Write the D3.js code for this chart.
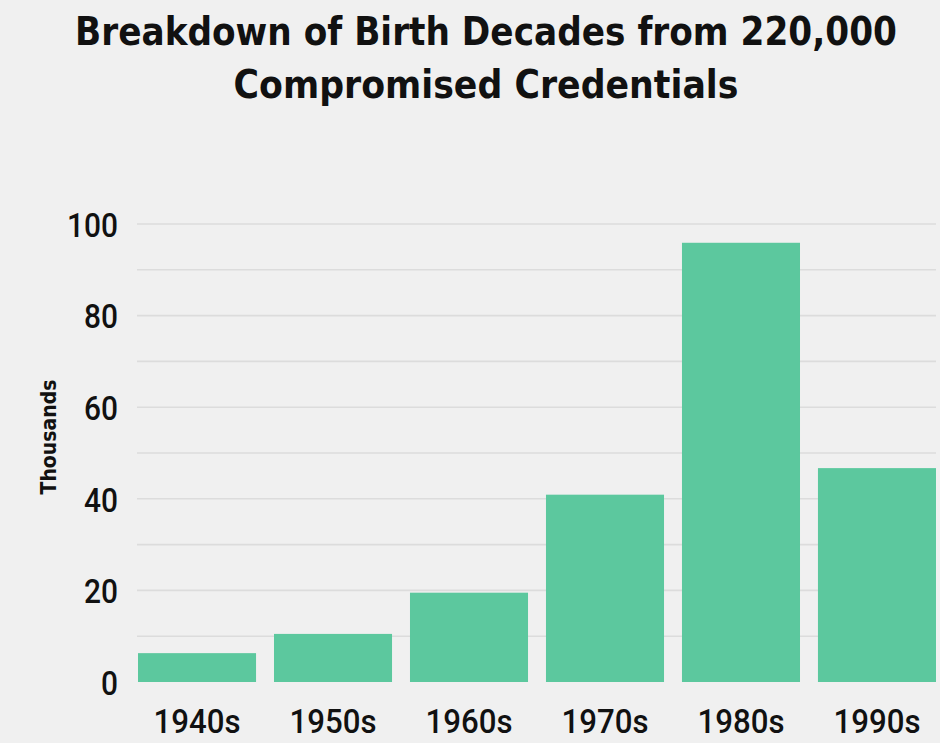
<!DOCTYPE html>
<html>
<head>
<meta charset="utf-8">
<script src="https://cdn.jsdelivr.net/npm/d3@7"></script>
<style>
  html, body { margin: 0; padding: 0; background: #f0f0f0; }
  svg { display: block; }
  text { font-family: "DejaVu Sans", "Liberation Sans", "Roboto", sans-serif; fill: #111; }
  .tick text { font-family: "Roboto", "DejaVu Sans", sans-serif; }
</style>
</head>
<body>
<svg id="chart" width="940" height="743"></svg>
<script>
// Birth decades and counts (thousands)
const decades = ["1940s", "1950s", "1960s", "1970s", "1980s", "1990s"];
const counts = [6.3, 10.5, 19.5, 40.9, 95.9, 46.7];
const yTicks = [0, 20, 40, 60, 80, 100];
const gridValues = [10, 20, 30, 40, 50, 60, 70, 80, 90, 100];
const titleLines = ["Breakdown of Birth Decades from 220,000", "Compromised Credentials"];

const svg = d3.select("#chart");
const W = 940, H = 743;
svg.append("rect").attr("width", W).attr("height", H).attr("fill", "#f0f0f0");

const x = d3.scaleBand().domain(decades).range([138, 936]).paddingInner(0.132).paddingOuter(0);
const y = d3.scaleLinear().domain([0, 100]).range([682, 224]);

// Squeeze a group of labels horizontally by a common factor so that the
// chosen label ends up with the given width (narrow, tall lettering)
function condense(sel, refNode, targetWidth) {
  const k = targetWidth / refNode.getComputedTextLength();
  sel.each(function () {
    const w = this.getComputedTextLength();
    d3.select(this).attr("textLength", w * k).attr("lengthAdjust", "spacingAndGlyphs");
  });
}

// Title: two centred lines, narrowed horizontally with a scale transform
const titleWidths = [822, 505];
const titleBaselines = [45, 98];
titleLines.forEach((t, i) => {
  const g = svg.append("g");
  const el = g.append("text")
    .attr("text-anchor", "middle")
    .style("font-weight", "bold")
    .style("font-size", "39px")
    .text(t);
  const k = titleWidths[i] / el.node().getComputedTextLength();
  g.attr("transform", `translate(486,${titleBaselines[i]}) scale(${k},1)`);
});

// Gridlines
svg.append("g").selectAll("line").data(gridValues).join("line")
  .attr("x1", 137).attr("x2", 936)
  .attr("y1", d => y(d)).attr("y2", d => y(d))
  .attr("stroke", "#dcdcdc").attr("stroke-width", 1.6);

// Bars
svg.append("g").selectAll("rect").data(decades).join("rect")
  .attr("x", d => x(d))
  .attr("width", x.bandwidth())
  .attr("y", (d, i) => y(counts[i]))
  .attr("height", (d, i) => y(0) - y(counts[i]))
  .attr("fill", "#5cc89e");

// Y axis
const yAxis = svg.append("g").attr("transform", "translate(118,0)")
  .call(d3.axisLeft(y).tickValues(yTicks).tickSize(0).tickPadding(0));
yAxis.select(".domain").remove();
yAxis.selectAll("text")
  .attr("fill", "#111").attr("dy", "0.36em")
  .style("font-size", "34px").style("font-weight", "500");
condense(yAxis.selectAll("text"), yAxis.selectAll("text").filter(d => d === 100).node(), 51);

// X axis
const xAxis = svg.append("g")
  .call(d3.axisBottom(x).tickSize(0).tickPadding(0));
xAxis.select(".domain").remove();
xAxis.selectAll("text")
  .attr("fill", "#111").attr("dy", null).attr("y", 733)
  .style("font-size", "34px").style("font-weight", "500");
condense(xAxis.selectAll("text"), xAxis.selectAll("text").filter(d => d === "1940s").node(), 87);

// Y axis title
svg.append("text")
  .attr("transform", "translate(56,437) rotate(-90)")
  .attr("text-anchor", "middle")
  .style("font-weight", "bold")
  .style("font-size", "22px")
  .attr("textLength", 115)
  .attr("lengthAdjust", "spacingAndGlyphs")
  .text("Thousands");
</script>
</body>
</html>
